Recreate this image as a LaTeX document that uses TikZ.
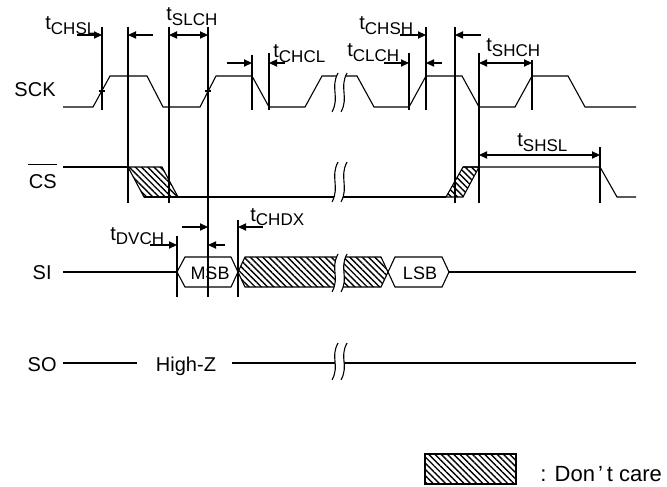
\documentclass[tikz,border=0pt]{standalone}
\usepackage{fontspec}
\setmainfont{Liberation Sans}
\usetikzlibrary{arrows.meta}
\usetikzlibrary{patterns.meta}
\newcommand{\tpar}[1]{t\raisebox{-2.3pt}{\fontsize{8.5pt}{9pt}\selectfont #1}}
\tikzset{
    sig/.style = {line width=0.55pt, line join=miter},
    vline/.style = {line width=0.55pt},
    dontcare/.style = {sig, pattern={Lines[angle=-45,distance=2.2pt,line width=0.7pt]}},
    tarr/.style = {line width=0.55pt, -{Triangle[length=4pt,width=3.6pt]}},
    tdarr/.style = {line width=0.55pt, {Triangle[length=4pt,width=3.6pt]}-{Triangle[length=4pt,width=3.6pt]}},
    sname/.style = {inner sep=0pt, anchor=base east},
    tlab/.style = {inner sep=0pt, anchor=base west},
}
\begin{document}
\begin{tikzpicture}[
    x=0.5pt, y=-0.5pt,
    font=\fontsize{10pt}{12pt}\selectfont
]
\useasboundingbox (0,0) rectangle (667,486);
% signal names
\node[sname] (sck) at (56,97) {SCK};
\node[sname] (cs) at (57,188) {CS};
\draw[sig] ([yshift=4.6pt]cs.north west) -- ([yshift=4.6pt]cs.north east);
\node[sname] (si) at (52,279) {SI};
\node[sname] (so) at (57,371) {SO};
%
% SCK
\draw[sig] (63,107) -- (93,107) -- (110,76) -- (147,76) -- (163,107) -- (200,107)
    -- (216,76) -- (252,76) -- (269,107) -- (305,107) -- (322,76) -- (357,76)
    -- (374,107) -- (409,107) -- (426,76) -- (462,76) -- (479,107) -- (515,107)
    -- (532,76) -- (568,76) -- (585,107) -- (636,107);
\draw[sig] (99,91) -- (105,91);
\draw[sig] (205,91) -- (211,91);
%
% CS
\draw[sig] (63,167) -- (128,167);
\draw[dontcare] (128,167) -- (162,167) -- (178,197) -- (144,197) -- cycle;
\draw[sig] (144,197) -- (446,197);
\draw[dontcare] (446,197) -- (463,197) -- (479,167) -- (463,167) -- cycle;
\draw[sig] (463,167) -- (600,167) -- (617,197) -- (636,197);
%
% SI
\draw[sig] (63,272) -- (177,272);
\draw[sig] (177,272) -- (185,257) -- (231,257) -- (238,272) -- (231,287) -- (185,287) -- cycle;
\node[inner sep=0pt, anchor=base, font=\fontsize{9pt}{10pt}\selectfont] (msb) at (210,279) {MSB};
\draw[dontcare] (238,272) -- (245,257) -- (381,257) -- (388,272) -- (381,287) -- (245,287) -- cycle;
\draw[sig] (388,272) -- (395,257) -- (442,257) -- (449,272) -- (442,287) -- (395,287) -- cycle;
\node[inner sep=0pt, anchor=base, font=\fontsize{9pt}{10pt}\selectfont] (lsb) at (420,279) {LSB};
\draw[sig] (449,272) -- (636,272);
%
% SO
\draw[sig] (63,363) -- (137,363);
\node[inner sep=0pt, anchor=base] (hiz) at (186,371) {High-Z};
\draw[sig] (232,363) -- (636,363);
%
% breaks
\foreach \yt/\yb in {73/112, 162/202, 254/292, 343/380} {
    \fill[white] (338,\yt) .. controls +(-8,15) and +(8,-15) .. (332,\yb)
        -- (341,\yb) .. controls +(8,-15) and +(-8,15) .. (347,\yt) -- cycle;
    \draw[sig] (338,\yt) .. controls +(-8,15) and +(8,-15) .. (332,\yb);
    \draw[sig] (347,\yt) .. controls +(-8,15) and +(8,-15) .. (341,\yb);
}
%
% timing lines
\foreach \x/\ya/\yb in {102/27/110, 128/27/203, 169/27/203, 208/27/297,
    252/55/110, 269/53/110, 409/53/110, 426/27/110, 455/27/203,
    479/53/203, 532/60/110, 600/147/203, 177/236/297, 238/220/297}
    \draw[vline] (\x,\ya) -- (\x,\yb);
%
% timing arrows
\draw[tarr] (77,35) -- (102,35);
\draw[tarr] (153,35) -- (128,35);
\draw[tdarr] (169,35) -- (208,35);
\draw[tarr] (227,63) -- (252,63);
\draw[tarr] (285,63) -- (269,63);
\draw[tarr] (400,35) -- (426,35);
\draw[tarr] (384,63) -- (409,63);
\draw[tarr] (442,63) -- (426,63);
\draw[tarr] (481,35) -- (455,35);
\draw[tdarr] (479,63) -- (532,63);
\draw[tdarr] (479,155) -- (600,155);
\draw[tarr] (182,227) -- (208,227);
\draw[tarr] (225,245) -- (208,245);
\draw[tarr] (150,245) -- (177,245);
\draw[tarr] (263,227) -- (238,227);
%
% timing labels
\node[tlab] (tchsl) at (45,30) {\tpar{CHSL}};
\node[tlab] (tslch) at (166,21) {\tpar{SLCH}};
\node[tlab] (tchcl) at (273,58) {\tpar{CHCL}};
\node[tlab] (tchsh) at (359,30) {\tpar{CHSH}};
\node[tlab] (tclch) at (347,57) {\tpar{CLCH}};
\node[tlab] (tshch) at (486,52) {\tpar{SHCH}};
\node[tlab] (tshsl) at (517,147) {\tpar{SHSL}};
\node[tlab] (tdvch) at (110,240) {\tpar{DVCH}};
\node[tlab] (tchdx) at (250,221) {\tpar{CHDX}};
%
% legend
\draw[dontcare] (425,454) rectangle (516,484);
\node[tlab, font=\fontsize{11pt}{13pt}\selectfont] (dc) at (540,481) {: Don\kern1.5pt’\kern2pt t care};
\end{tikzpicture}
\end{document}
